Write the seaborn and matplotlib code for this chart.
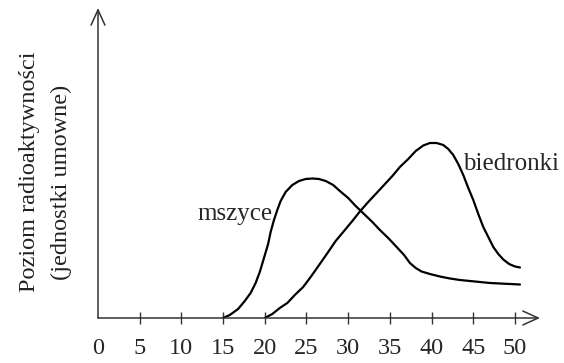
import pandas as pd
import matplotlib
matplotlib.use("Agg")
import matplotlib.pyplot as plt
import seaborn as sns

# dane (dni, poziom radioaktywnosci w jedn. umownych)
mszyce_x = [15.0, 15.8, 16.8, 17.6, 18.3, 18.9, 19.4, 19.9, 20.4, 20.7, 21.1, 21.5,
            21.9, 22.5, 23.3, 24.1, 24.9, 25.7, 26.5, 27.3, 28.2, 29.0, 30.0, 30.9,
            31.9, 32.9, 33.8, 34.8, 35.7, 36.7, 37.4, 38.1, 38.8, 39.8, 41.0, 42.2,
            43.4, 44.6, 45.8, 47.0, 48.2, 49.4, 50.6]
mszyce_y = [0, 3, 9, 17, 25, 35, 46, 60, 74, 86, 98, 108,
            117, 126, 133, 137, 139, 139.5, 139, 137, 133, 127, 120, 112,
            104, 96, 88, 80, 72, 63, 55, 50, 46.5, 44, 41.5, 39.5,
            38, 37, 36, 35, 34.5, 34, 33.5]

biedronki_x = [20.0, 20.9, 21.8, 22.7, 23.6, 24.6, 25.5, 26.6, 27.6, 28.5, 29.5, 30.5,
               31.4, 32.4, 33.3, 34.3, 35.3, 36.2, 37.2, 38.1, 39.0, 39.8, 40.6, 41.4,
               42.0, 42.6, 43.2, 43.8, 44.4, 45.0, 45.6, 46.2, 46.8, 47.4, 48.0, 48.6,
               49.3, 50.0, 50.6]
biedronki_y = [0, 4, 10, 15, 23, 31, 41, 54, 66, 77, 87, 97,
               106.5, 116, 124, 133, 142, 151, 159, 167, 172.5, 175, 175, 173,
               169, 163, 154, 143, 130, 118, 104, 91, 81, 71, 64, 58.5,
               54, 51.5, 50.5]

tick_values = [0, 5, 10, 15, 20, 25, 30, 35, 40, 45, 50]
tick_labels = [str(t) for t in tick_values]

df = pd.concat([
    pd.DataFrame({"dzien": mszyce_x, "poziom": mszyce_y, "grupa": "mszyce"}),
    pd.DataFrame({"dzien": biedronki_x, "poziom": biedronki_y, "grupa": "biedronki"}),
])

sns.set_style("white")
plt.rcParams["font.family"] = ["Liberation Serif", "DejaVu Serif"]

fig = plt.figure(figsize=(5.64, 3.63), dpi=100)
ax = fig.add_axes([98 / 564, 45 / 363, 447 / 564, 315 / 363])

sns.lineplot(data=df, x="dzien", y="poziom", units="grupa", estimator=None,
             color="black", linewidth=1.6, sort=False, ax=ax,
             solid_joinstyle="round", solid_capstyle="round")

ax.set_xlim(0, 53.6)
ax.set_ylim(0, 315)
for s in ax.spines.values():
    s.set_visible(False)

axis_col = "#333333"
arrow = dict(arrowstyle="->,head_length=0.55,head_width=0.25", lw=1.1,
             color=axis_col, mutation_scale=20, shrinkA=0, shrinkB=0)
ax.annotate("", xy=(53.0, 0), xytext=(0, 0), arrowprops=arrow)
ax.annotate("", xy=(0, 310), xytext=(0, 0), arrowprops=arrow)

ax.set_xticks(tick_values)
ax.set_xticklabels(tick_labels, fontsize=17.5)
ax.tick_params(axis="x", direction="inout", length=9, width=1.0, color=axis_col,
               pad=10, bottom=True)
ax.xaxis.get_major_ticks()[0].tick1line.set_visible(False)
ax.set_yticks([])
ax.set_xlabel("")
ax.set_ylabel("")

ax.text(20.9, 98, "mszyce", fontsize=18, ha="right", va="baseline")
ax.text(43.8, 148, "biedronki", fontsize=18, ha="left", va="baseline")

fig.text(30 / 564, 1 - 172 / 363, "Poziom radioaktywności", rotation=90,
         ha="center", va="center", fontsize=17.5, color="#222222")
fig.text(61 / 564, 1 - 182 / 363, "(jednostki umowne)", rotation=90,
         ha="center", va="center", fontsize=17.5, color="#222222")

fig.savefig("out.png", dpi=100)
